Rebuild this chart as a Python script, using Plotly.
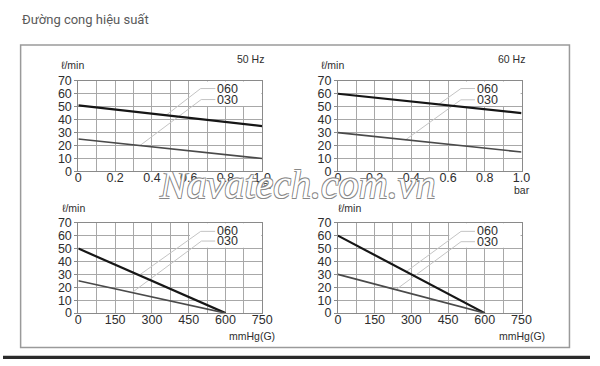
import numpy as np
import plotly.graph_objects as go

# ---------------- data ----------------
pressure_bar = [0.0, 1.0]
flow_50hz_bar_060 = [51, 35]
flow_50hz_bar_030 = [25, 10]
flow_60hz_bar_060 = [60, 45]
flow_60hz_bar_030 = [30, 15]

vacuum_mmhg = [0, 600]
flow_50hz_vac_060 = [50, 0]
flow_50hz_vac_030 = [25, 0]
flow_60hz_vac_060 = [60, 0]
flow_60hz_vac_030 = [30, 0]

bar_tickvals = [0, 0.2, 0.4, 0.6, 0.8, 1.0]
bar_ticktext = ["0", "0.2", "0.4", "0.6", "0.8", "1.0"]
mmhg_tickvals = [0, 150, 300, 450, 600, 750]
mmhg_ticktext = ["0", "150", "300", "450", "600", "750"]
flow_tickvals = [0, 10, 20, 30, 40, 50, 60, 70]

model_names = ["060", "030"]

# label anchors (label x, label y, knee x, curve-end x) per panel and model
leaders = {
    1: {"060": (0.745, 64.0, 0.665, 0.477), "030": (0.745, 55.5, 0.668, 0.335)},
    2: {"060": (0.747, 64.0, 0.670, 0.549), "030": (0.747, 55.3, 0.670, 0.369)},
    3: {"060": (558, 63.3, 499, 248), "030": (558, 55.8, 502, 219)},
    4: {"060": (560, 63.3, 503, 279), "030": (560, 55.3, 503, 237)},
}

panels = [
    (1, pressure_bar, flow_50hz_bar_060, flow_50hz_bar_030),
    (2, pressure_bar, flow_60hz_bar_060, flow_60hz_bar_030),
    (3, vacuum_mmhg, flow_50hz_vac_060, flow_50hz_vac_030),
    (4, vacuum_mmhg, flow_60hz_vac_060, flow_60hz_vac_030),
]

# ---------------- style ----------------
W, H = 600, 366
GRID = "#a8a8a8"
AXLINE = "#8a8a8a"
TXT = "#2e2e2e"
FONT = "Liberation Sans, Arial, sans-serif"


def px(x):
    return x / W


def py(y):
    return 1 - y / H


fig = go.Figure()

x_domains = {1: [px(77), px(265)], 2: [px(342.3), px(530)],
             3: [px(77), px(265)], 4: [px(342.3), px(530)]}
y_domains = {1: [py(171), py(76.7)], 2: [py(171), py(76.7)],
             3: [py(318.3), py(224.3)], 4: [py(318.3), py(224.3)]}

shapes = []
annotations = []

for idx, xs, y060, y030 in panels:
    xa = "x" if idx == 1 else f"x{idx}"
    ya = "y" if idx == 1 else f"y{idx}"
    curves = {"060": y060, "030": y030}
    # leaders (drawn first, beneath curves)
    for name in model_names:
        lx, ly, kx, ex = leaders[idx][name]
        ey = float(np.interp(ex, xs, curves[name]))
        fig.add_trace(go.Scatter(
            x=[lx, kx, ex], y=[ly, ly, ey], mode="lines",
            line=dict(color="#c4c4c4", width=1), xaxis=xa, yaxis=ya,
            showlegend=False, hoverinfo="skip"))
        annotations.append(dict(
            x=lx, y=ly, xref=xa, yref=ya, text=name, showarrow=False,
            xanchor="left", yanchor="middle", xshift=0,
            font=dict(family=FONT, size=12.5, color=TXT)))
    fig.add_trace(go.Scatter(
        x=xs, y=y060, mode="lines", line=dict(color="#161616", width=2.2),
        xaxis=xa, yaxis=ya, showlegend=False))
    fig.add_trace(go.Scatter(
        x=xs, y=y030, mode="lines", line=dict(color="#4a4a4a", width=1.6),
        xaxis=xa, yaxis=ya, showlegend=False))

    # white patch behind labels
    if idx in (1, 2):
        bx0, bx1 = 0.605, 0.995
    else:
        bx0, bx1 = 455, 746
    shapes.append(dict(type="rect", xref=xa, yref=ya, x0=bx0, x1=bx1,
                       y0=50.6, y1=69.5, fillcolor="white",
                       line=dict(width=0), layer="between"))

    is_bar = idx in (1, 2)
    xaxis = dict(
        domain=x_domains[idx], anchor=ya,
        range=[0, 1.0] if is_bar else [0, 750],
        tickmode="array",
        tickvals=bar_tickvals if is_bar else mmhg_tickvals,
        ticktext=bar_ticktext if is_bar else mmhg_ticktext,
        showgrid=True, gridcolor=GRID, gridwidth=1,
        minor=dict(tickmode="linear", tick0=0, dtick=0.1 if is_bar else 75,
                   showgrid=True, gridcolor=GRID, gridwidth=1),
        showline=True, linecolor=AXLINE, linewidth=1, mirror=True,
        zeroline=False, ticks="", ticklabelstandoff=-5,
        tickfont=dict(family=FONT, size=12.5, color=TXT), fixedrange=True)
    yaxis = dict(
        domain=y_domains[idx], anchor=xa, range=[0, 70],
        tickmode="array", tickvals=flow_tickvals,
        showgrid=True, gridcolor=GRID, gridwidth=1,
        showline=True, linecolor=AXLINE, linewidth=1, mirror=True,
        zeroline=False, ticks="outside", ticklen=3, tickcolor=AXLINE,
        tickfont=dict(family=FONT, size=12.5, color=TXT), fixedrange=True)
    key = "" if idx == 1 else str(idx)
    fig.layout["xaxis" + key] = xaxis
    fig.layout["yaxis" + key] = yaxis

# frame and bottom bar
shapes.append(dict(type="rect", xref="paper", yref="paper",
                   x0=px(18), x1=px(579), y0=py(354), y1=py(39.5),
                   line=dict(color="#9a9a9a", width=1.5), layer="below"))
shapes.append(dict(type="rect", xref="paper", yref="paper",
                   x0=0, x1=1, y0=py(366), y1=py(362.5),
                   fillcolor="#2a2a2a", line=dict(width=0), layer="above"))

small = dict(family=FONT, size=10.5, color=TXT)
text_items = [
    ("ℓ/min", 57, 60.7, "left"),
    ("ℓ/min", 323, 60.7, "left"),
    ("ℓ/min", 58, 209, "left"),
    ("ℓ/min", 340, 209, "left"),
    ("50 Hz", 253, 54, "center"),
    ("60 Hz", 520, 54, "center"),
    ("bar", 268, 185, "center"),
    ("bar", 530, 190, "center"),
    ("mmHg(G)", 255, 341.7, "center"),
    ("mmHg(G)", 530, 341.7, "center"),
]
for t, x, y, anc in text_items:
    annotations.append(dict(text=t, x=px(x), y=py(y), xref="paper",
                            yref="paper", xanchor=anc, yanchor="middle",
                            showarrow=False, font=small))

annotations.append(dict(text="Đường cong hiệu suất", x=px(17), y=py(13),
                        xref="paper", yref="paper", xanchor="left",
                        yanchor="middle", showarrow=False,
                        font=dict(family="Roboto, sans-serif", size=13,
                                  color="#5a5a5a")))

annotations.append(dict(
    text="Navatech.com.vn", x=px(300), y=py(185), xref="paper", yref="paper",
    xanchor="center", yanchor="middle", showarrow=False,
    font=dict(family="Liberation Serif, serif", size=40, color="white",
              style="italic",
              shadow="0.8px 0.8px 0 #888, -0.8px -0.8px 0 #888, 0.8px -0.8px 0 #888, -0.8px 0.8px 0 #888")))

fig.update_layout(
    width=W, height=H, margin=dict(l=0, r=0, t=0, b=0),
    paper_bgcolor="white", plot_bgcolor="white",
    showlegend=False, shapes=shapes, annotations=annotations)

fig.write_html("out.html", config={"displayModeBar": False})
